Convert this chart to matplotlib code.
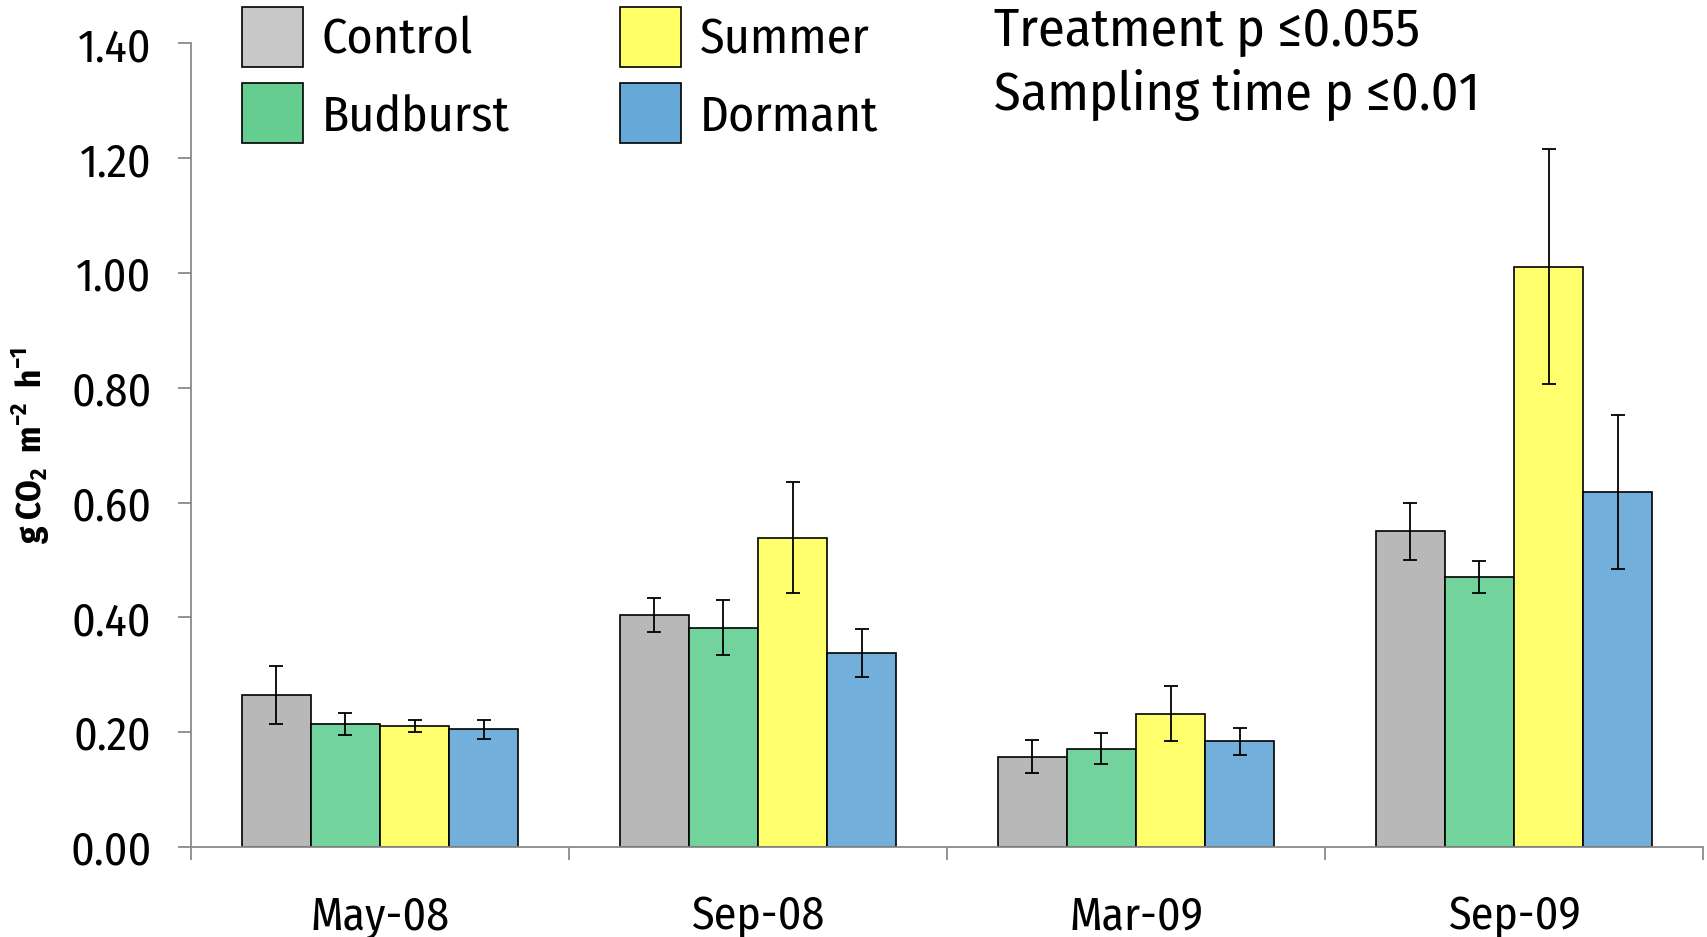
import matplotlib
matplotlib.use("Agg")
import matplotlib.pyplot as plt
from matplotlib.patches import Patch
import numpy as np

plt.rcParams['font.family'] = ['Fira Sans Condensed', 'DejaVu Sans']
plt.rcParams['mathtext.fontset'] = 'custom'
plt.rcParams['mathtext.rm'] = 'Fira Sans Condensed'
plt.rcParams['mathtext.bf'] = 'Fira Sans Condensed:bold'

# Soil respiration per sampling date and treatment
dates = ["May-08", "Sep-08", "Mar-09", "Sep-09"]
treatments = ["Control", "Budburst", "Summer", "Dormant"]

control = [0.265, 0.404, 0.157, 0.550]
budburst = [0.214, 0.382, 0.171, 0.471]
summer = [0.211, 0.539, 0.232, 1.011]
dormant = [0.205, 0.338, 0.184, 0.618]

control_se = [0.050, 0.030, 0.029, 0.050]
budburst_se = [0.019, 0.048, 0.027, 0.028]
summer_se = [0.011, 0.096, 0.048, 0.205]
dormant_se = [0.017, 0.042, 0.023, 0.134]

bar_colors = ["#B8B8B8", "#72D49C", "#FFFF6E", "#73AFDB"]
key_colors = ["#C8C8C8", "#66CD90", "#FFFF66", "#66A8D8"]

means = [control, budburst, summer, dormant]
errs = [control_se, budburst_se, summer_se, dormant_se]

fig = plt.figure(figsize=(17.07, 9.375), dpi=100)
ax = fig.add_axes([0.1119, 0.0961, 0.8858, 0.857])

x = np.arange(len(dates))
w = 0.183
for i in range(4):
    pos = x + (i - 1.5) * w
    ax.bar(pos, means[i], width=w, color=bar_colors[i], edgecolor="black",
           linewidth=1.2, zorder=2)
    ax.errorbar(pos, means[i], yerr=errs[i], fmt="none", ecolor="black",
                elinewidth=1.3, capsize=4.8, capthick=1.3, zorder=3)

ax.set_xlim(-0.5, 3.5)
ax.set_ylim(0, 1.40)
ax.set_yticks(np.arange(0, 1.41, 0.2))
ax.set_yticklabels(["%.2f" % v for v in np.arange(0, 1.41, 0.2)], fontsize=33)
ax.set_xticks(x)
ax.set_xticklabels(dates, fontsize=33)
ax.set_xticks(np.arange(-0.5, 3.6, 1), minor=True)

axis_gray = "#8A8A8A"
for s in ["top", "right"]:
    ax.spines[s].set_visible(False)
for s in ["left", "bottom"]:
    ax.spines[s].set_color(axis_gray)
    ax.spines[s].set_linewidth(1.3)
ax.tick_params(axis="y", length=9.4, width=1.3, color=axis_gray, pad=19)
ax.tick_params(axis="x", which="major", length=0, pad=34)
ax.tick_params(axis="x", which="minor", length=9.4, width=1.3, color=axis_gray)

ax.set_ylabel("g CO$_\\mathbf{2}$  m$^\\mathbf{-2}$  h$^\\mathbf{-1}$",
              fontsize=25, fontweight="bold")
ax.yaxis.set_label_coords(-0.092, 0.5)

handles = [Patch(facecolor=c, edgecolor="black", linewidth=1.2) for c in key_colors]
fig.legend(handles, treatments, ncol=2, loc="upper left",
           bbox_to_anchor=(242 / 1707, 1 - 7 / 937), frameon=False,
           fontsize=36, borderpad=0, borderaxespad=0,
           handlelength=1.22, handleheight=1.48, handletextpad=0.38,
           labelspacing=0.32, columnspacing=2.2)

fig.text(994 / 1707, 1 - 31 / 937, "Treatment p \u22640.055", fontsize=39,
         va="center", ha="left")
fig.text(994 / 1707, 1 - 95 / 937, "Sampling time p \u22640.01", fontsize=39,
         va="center", ha="left")

fig.savefig("out.png", dpi=100)
